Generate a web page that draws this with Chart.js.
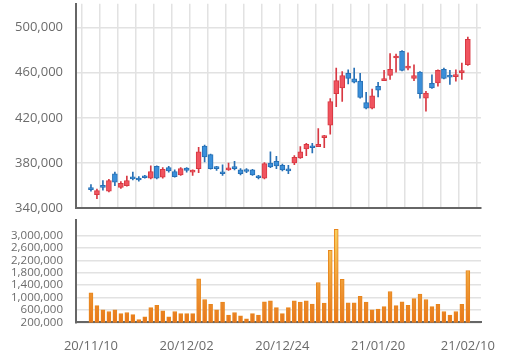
<!DOCTYPE html>
<html><head><meta charset="utf-8">
<script src="https://cdn.jsdelivr.net/npm/chart.js@4/dist/chart.umd.min.js"></script>
<style>
html,body{margin:0;padding:0;background:#fff;width:512px;height:364px;overflow:hidden;position:relative;}
#top{position:absolute;left:0;top:-17px;width:512px;height:246px;}
#bot{position:absolute;left:0;top:200px;width:512px;height:170px;}
</style></head><body>
<div id="top"><canvas id="c1"></canvas></div>
<div id="bot"><canvas id="c2"></canvas></div>
<script>
const dates = [
 "20/11/10","20/11/11","20/11/12","20/11/13","20/11/16","20/11/17","20/11/18","20/11/19","20/11/20",
 "20/11/23","20/11/24","20/11/25","20/11/26","20/11/27","20/11/30",
 "20/12/01","20/12/02","20/12/03","20/12/04","20/12/07","20/12/08","20/12/09","20/12/10","20/12/11",
 "20/12/14","20/12/15","20/12/16","20/12/17","20/12/18","20/12/21","20/12/22","20/12/23","20/12/24",
 "20/12/28","20/12/29","20/12/30",
 "21/01/04","21/01/05","21/01/06","21/01/07","21/01/08","21/01/11","21/01/12","21/01/13","21/01/14","21/01/15",
 "21/01/18","21/01/19","21/01/20","21/01/21","21/01/22","21/01/25","21/01/26","21/01/27","21/01/28","21/01/29",
 "21/02/01","21/02/02","21/02/03","21/02/04","21/02/05","21/02/08","21/02/09","21/02/10"];
const openP = [358000,352000,360000,355000,370500,358500,360000,366500,366000,368500,366500,377000,367500,376000,372500,369500,375500,372000,375000,395000,387500,376500,372000,374000,376500,374000,374000,374000,368500,366500,380000,381500,378000,374500,380000,384500,392500,394500,394500,402500,413500,441500,446500,459500,454500,452500,433500,428500,448000,453000,457500,473000,479000,464000,455000,460500,437500,450500,451000,463000,457500,456500,460000,467000];
const highP = [361000,357000,364500,365500,372000,363500,368500,372000,368000,369000,377500,377500,376000,377000,374000,376000,376000,374000,394000,396000,388000,377000,378500,380000,381500,375000,375000,374500,369000,380500,390000,386000,379000,378000,386500,394500,397500,397500,410500,404500,437000,464000,461000,462500,464000,459500,442500,445500,451500,462000,477000,476500,479500,477500,467000,461000,443500,458000,462500,464000,462000,462500,468500,491500];
const lowP = [355000,348500,356000,354500,360000,357500,359500,365000,364000,366500,366000,366000,366500,372000,367500,369000,372000,369000,371500,381000,374500,373500,369000,373500,374000,369500,371500,369000,366000,366000,376000,375000,373000,370500,378500,384000,386500,389000,394500,393500,405500,430000,434500,450000,451000,437500,428000,428000,438500,453000,454000,460500,461500,462500,453000,437500,426000,446000,448000,454500,449500,452500,454000,466500];
const closeP = [356500,355500,358500,364500,363000,362000,364500,366000,365000,367000,372500,366500,374500,373000,368000,375000,373500,373500,390000,385500,375000,375000,370500,375000,375000,370500,372500,369500,367000,379500,376500,377500,374000,373000,385000,390000,396500,393500,396500,404000,434500,453000,457500,455000,451500,438000,428500,439500,444500,454500,463000,474500,462000,465500,457500,441500,442000,446500,462000,455000,456000,457500,461000,489500];
const volume = [1155000,738000,604000,552000,604000,480000,520000,449000,293000,377000,676000,750000,573000,377000,552000,480000,480000,480000,1600000,937000,782000,604000,853000,438000,520000,408000,315000,480000,438000,863000,894000,676000,480000,676000,894000,853000,894000,791000,1485000,822000,2524000,3196000,1590000,832000,832000,1040000,853000,604000,625000,707000,1196000,738000,863000,750000,968000,1112000,937000,707000,782000,552000,438000,552000,782000,1870000];
const priceTicks = [340000,380000,420000,460000,500000];
const volumeTicks = [200000,600000,1000000,1400000,1800000,2200000,2600000,3000000];
const labelIndexes = [0,16,32,48,63];

const FONT = "'Open Sans', 'Noto Sans', sans-serif";
const UP_FILL = '#f0545f', UP_LINE = '#d83842';
const DN_FILL = '#3a8fda', DN_LINE = '#2770b5';
const GRID = '#e2e2e2', AXIS = '#666';
const isUp = i => closeP[i] >= openP[i];
const xMin = -2.5, xMax = 65.2;
const fmt = v => v.toLocaleString('en-US');

const bodyData = dates.map((d,i)=>({x:i, y:[openP[i], closeP[i]]}));
const wickData = dates.map((d,i)=>({x:i, y:[lowP[i], highP[i]]}));
const volData = dates.map((d,i)=>({x:i, y:volume[i]}));

new Chart(document.getElementById('c1'), {
  type: 'bar',
  data: { datasets: [
    { data: bodyData, grouped:false, barThickness:5, minBarLength:2, borderWidth:1, borderSkipped:false,
      backgroundColor: c => isUp(c.dataIndex)?UP_FILL:DN_FILL,
      borderColor: c => isUp(c.dataIndex)?UP_LINE:DN_LINE },
    { data: wickData, grouped:false, barThickness:1, borderWidth:0,
      backgroundColor: c => isUp(c.dataIndex)?UP_LINE:DN_LINE }
  ]},
  options: {
    responsive:true, maintainAspectRatio:false, animation:false,
    layout:{padding:{left:0,right:31,top:0,bottom:0}},
    plugins:{legend:{display:false}, tooltip:{enabled:false}},
    scales:{
      x:{ type:'linear', min:xMin, max:xMax, offset:false,
          afterBuildTicks: a => { const t=[]; for(let i=0;i<dates.length;i+=3) t.push({value:i}); a.ticks=t; },
          ticks:{display:false},
          grid:{color:GRID, lineWidth:1.5, drawTicks:false},
          border:{display:true, color:AXIS, width:2} },
      y:{ min:340000, max:521000,
          afterBuildTicks: a => { a.ticks = priceTicks.map(v=>({value:v})); },
          afterFit: s => { s.width = 76; },
          ticks:{ color:'#6b6b6b', font:{family:FONT, size:13}, padding:13, autoSkip:false, callback: v => fmt(v) },
          grid:{color:GRID, lineWidth:1.5, drawTicks:false},
          border:{display:true, color:AXIS, width:2} }
    }
  }
});

new Chart(document.getElementById('c2'), {
  type: 'bar',
  data: { datasets: [
    { data: volData, barThickness:4, borderWidth:1, borderSkipped:'bottom',
      borderColor:'#e8861c',
      backgroundColor: c => {
        const ch = c.chart, a = ch.chartArea;
        if (!a) return '#f0a030';
        const g = ch.ctx.createLinearGradient(0, a.top + 10, 0, a.bottom);
        g.addColorStop(0, '#f9d060');
        g.addColorStop(1, '#e8761a');
        return g;
      } }
  ]},
  options: {
    responsive:true, maintainAspectRatio:false, animation:false,
    layout:{padding:{left:0,right:31,top:0,bottom:0}},
    plugins:{legend:{display:false}, tooltip:{enabled:false}},
    scales:{
      x:{ type:'linear', min:xMin, max:xMax, offset:false,
          afterBuildTicks: a => { a.ticks = labelIndexes.map(v=>({value:v})); },
          ticks:{ color:'#6b6b6b', font:{family:FONT, size:13}, padding:16, maxRotation:0, autoSkip:false,
                  callback: v => dates[v] },
          grid:{display:false, drawTicks:false},
          border:{display:true, color:AXIS, width:2} },
      y:{ min:200000, max:3500000,
          afterBuildTicks: a => { a.ticks = volumeTicks.map(v=>({value:v})); },
          afterFit: s => { s.width = 76; },
          ticks:{ color:'#6b6b6b', font:{family:FONT, size:11.5}, padding:13, autoSkip:false, callback: v => fmt(v) },
          grid:{color:GRID, lineWidth:1.5, drawTicks:false},
          border:{display:true, color:AXIS, width:2} }
    }
  }
});
</script>
</body></html>
